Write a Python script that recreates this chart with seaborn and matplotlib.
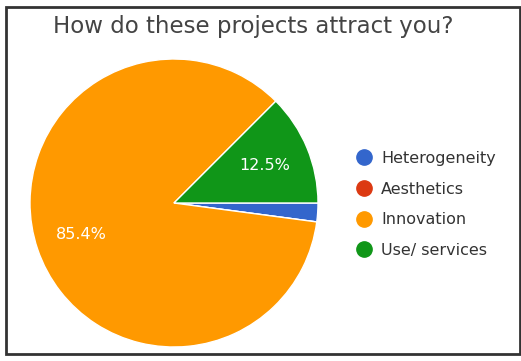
import matplotlib
matplotlib.use("Agg")
import matplotlib.pyplot as plt
import seaborn as sns
from matplotlib.lines import Line2D
from matplotlib.patches import Rectangle

sns.set_style("white")
plt.rcParams['font.family'] = ['DejaVu Sans']

title = "How do these projects attract you?"
categories = ["Heterogeneity", "Aesthetics", "Innovation", "Use/ services"]
values = [2.1, 0.0, 85.4, 12.5]
colors = ["#3366cc", "#dc3912", "#ff9900", "#109618"]

W, H = 521, 361
fig = plt.figure(figsize=(W / 100, H / 100), dpi=100)
fig.patch.set_facecolor("white")

cx, cy, r = 174, 203, 144
ax = fig.add_axes([(cx - r) / W, (H - cy - r) / H, 2 * r / W, 2 * r / H])

def fmt(p):
    return f"{p:.1f}%" if p >= 5 else ""

wedges, texts, autotexts = ax.pie(
    values, colors=colors, startangle=0, counterclock=False,
    autopct=fmt, pctdistance=0.68,
    wedgeprops=dict(edgecolor="white", linewidth=1),
    textprops=dict(color="white", fontsize=11.5),
)
ax.set_xlim(-1, 1)
ax.set_ylim(-1, 1)
ax.axis("off")

fig.text(253 / W, 1 - 27 / H, title, ha="center", va="center",
         fontsize=16.5, color="#444444")

handles = [Line2D([0], [0], marker="o", linestyle="none", markersize=11,
                  markerfacecolor=c, markeredgecolor=c) for c in colors]
leg = fig.legend(handles, categories, loc="upper left",
                 bbox_to_anchor=(346 / W, 1 - 143 / H), frameon=False,
                 fontsize=11.5, labelspacing=0.98, handletextpad=0.5,
                 handlelength=1.2, borderpad=0)
for t in leg.get_texts():
    t.set_color("#333333")

fig.patches.append(Rectangle((6 / W, 1 - 354 / H), 514 / W, 347 / H,
                             transform=fig.transFigure, fill=False,
                             edgecolor="#333333", linewidth=2))

fig.savefig("out.png", dpi=100)
